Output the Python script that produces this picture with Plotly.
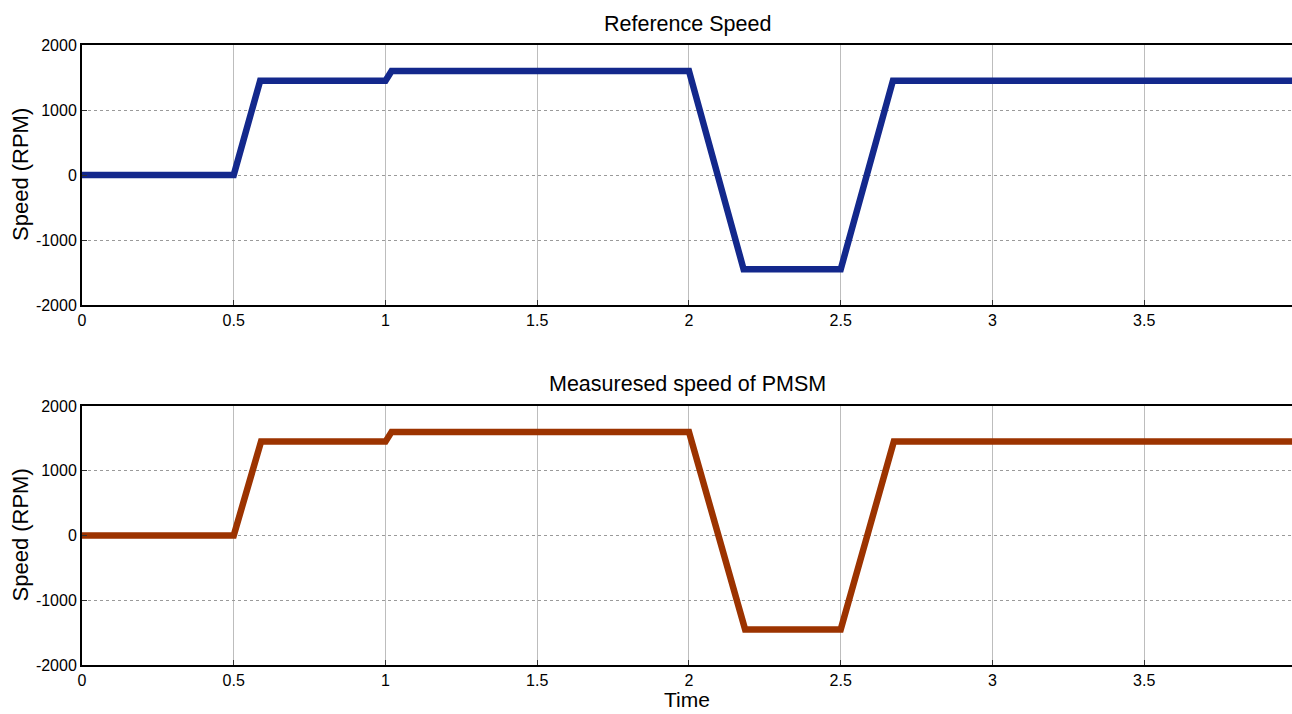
import plotly.graph_objects as go

# Data
ref_time = [0, 0.5, 0.587, 1.0, 1.02, 2.0, 2.18, 2.5, 2.672, 3.99]
ref_speed = [0, 0, 1450, 1450, 1600, 1600, -1450, -1450, 1450, 1450]
meas_time = [0, 0.5, 0.59, 1.0, 1.02, 2.0, 2.185, 2.5, 2.675, 3.99]
meas_speed = [0, 0, 1450, 1450, 1600, 1600, -1450, -1450, 1450, 1450]

x_ticks = [0, 0.5, 1, 1.5, 2, 2.5, 3, 3.5]
x_ticklabels = ["0", "0.5", "1", "1.5", "2", "2.5", "3", "3.5"]
y_ticks = [-2000, -1000, 0, 1000, 2000]
y_ticklabels = ["-2000", "-1000", "0", "1000", "2000"]

titles = ["Reference Speed", "Measuresed speed of PMSM"]
y_title = "Speed (RPM)"
x_title = "Time"

W, H = 1292, 714

fig = go.Figure()
fig.add_trace(go.Scatter(x=ref_time, y=ref_speed, mode="lines",
                         line=dict(color="#13288c", width=6.5),
                         xaxis="x", yaxis="y", showlegend=False))
fig.add_trace(go.Scatter(x=meas_time, y=meas_speed, mode="lines",
                         line=dict(color="#9c3300", width=6.5),
                         xaxis="x2", yaxis="y2", showlegend=False))

font = "Liberation Sans, Arial, sans-serif"
xcommon = dict(range=[0, 3.987], tickvals=x_ticks, ticktext=x_ticklabels,
               showgrid=True, gridcolor="#bdbdbd", gridwidth=1,
               showline=True, linecolor="black", linewidth=2, mirror=True,
               ticks="inside", ticklen=5, tickcolor="#333", zeroline=False,
               automargin=False,
               tickfont=dict(family=font, size=16, color="black"))
ycommon = dict(range=[-2000, 2000], tickvals=y_ticks, ticktext=y_ticklabels,
               showgrid=True, gridcolor="#9a9a9a", griddash="dot", gridwidth=1,
               showline=True, linecolor="black", linewidth=2, mirror=True,
               ticks="inside", ticklen=5, tickcolor="#333", zeroline=False,
               automargin=False,
               tickfont=dict(family=font, size=16, color="black"))

x0 = 82 / W
top1, bot1 = 45, 305
top2, bot2 = 406, 665

fig.update_layout(
    width=W, height=H,
    margin=dict(l=0, r=0, t=0, b=0, autoexpand=False),
    paper_bgcolor="white", plot_bgcolor="white",
    xaxis=dict(domain=[x0, 1.0], anchor="y", **xcommon),
    yaxis=dict(domain=[1 - bot1 / H, 1 - top1 / H], anchor="x", **ycommon),
    xaxis2=dict(domain=[x0, 1.0], anchor="y2", **xcommon),
    yaxis2=dict(domain=[1 - bot2 / H, 1 - top2 / H], anchor="x2", **ycommon),
)

def ann(text, px, py, size, angle=0, yanchor="middle"):
    fig.add_annotation(text=text, x=px / W, y=1 - py / H, xref="paper", yref="paper",
                       xanchor="center", yanchor=yanchor, showarrow=False,
                       textangle=angle, font=dict(family=font, size=size, color="black"))

ann(titles[0], 687, 24, 21.5)
ann(titles[1], 687, 384, 21.5)
ann(x_title, 687, 713, 21, yanchor="bottom")
ann(y_title, 20, (top1 + bot1) / 2, 22, -90)
ann(y_title, 20, (top2 + bot2) / 2, 22, -90)

fig.write_html("out.html")
